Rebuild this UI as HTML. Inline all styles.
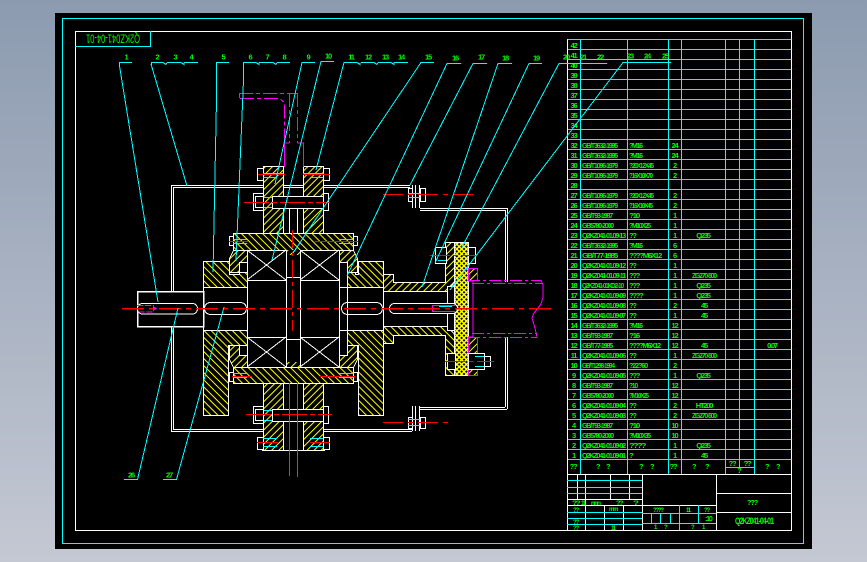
<!DOCTYPE html>
<html><head><meta charset="utf-8"><style>
html,body{margin:0;padding:0;width:867px;height:562px;overflow:hidden;background:linear-gradient(#8c9bb0,#c4c8d3)}
svg{display:block;position:absolute;left:0;top:0}
text{font-family:"Liberation Sans",sans-serif;fill:#0f0;font-size:7.5px;font-weight:bold;letter-spacing:-1.2px}
.m{text-anchor:middle}
</style></head><body>
<svg width="867" height="562" viewBox="0 0 867 562" shape-rendering="crispEdges">
<defs>
<pattern id="a" width="5" height="5" patternUnits="userSpaceOnUse" patternTransform="rotate(45)"><rect width="5" height="5" fill="#000"/><rect width="1.2" height="5" fill="#ff0"/></pattern>
<pattern id="b" width="5" height="5" patternUnits="userSpaceOnUse" patternTransform="rotate(-45)"><rect width="5" height="5" fill="#000"/><rect width="1.2" height="5" fill="#ff0"/></pattern>
<pattern id="c" width="3.400" height="3.400" patternUnits="userSpaceOnUse" patternTransform="rotate(45)"><rect width="3.400" height="3.400" fill="#ff0"/><rect width="1.800" height="1.800" fill="#000"/></pattern>
</defs>
<rect x="55" y="13" width="757" height="536" fill="#000"/>
<rect x="62.5" y="18.5" width="741" height="525" fill="none" stroke="#0ff"/>
<rect x="75.5" y="31.5" width="716" height="499" fill="none" stroke="#fff"/>
<path d="M75 46.5H150.5V31" fill="none" stroke="#0ff"/>
<text transform="rotate(180 113 39)" x="86" y="43.5" textLength="54" lengthAdjust="spacingAndGlyphs" style="font-size:12px;font-weight:normal;letter-spacing:0">Q2KZ041-04-01</text>

<!-- table -->
<path fill="none" stroke="#0ff" d="M567 39.5H791M567 49.5H791M567 59.5H791M567 69.5H791M567 79.5H791M567 89.5H791M567 99.5H791M567 109.5H791M567 119.5H791M567 129.5H791M567 139.5H791M567 149.5H791M567 159.5H791M567 169.5H791M567 179.5H791M567 189.5H791M567 199.5H791M567 209.5H791M567 219.5H791M567 229.5H791M567 239.5H791M567 249.5H791M567 259.5H791M567 269.5H791M567 279.5H791M567 289.5H791M567 299.5H791M567 309.5H791M567 319.5H791M567 329.5H791M567 339.5H791M567 349.5H791M567 359.5H791M567 369.5H791M567 379.5H791M567 389.5H791M567 399.5H791M567 409.5H791M567 419.5H791M567 429.5H791M567 439.5H791M567 449.5H791M567 459.5H791M580.5 39V474M627.5 39V474M668.5 39V474M681.5 39V474M725.5 39V474M739.5 39V467M754.5 39V474M725 467.5H754"/>
<path fill="none" stroke="#fff" d="M567.5 39V530M567 474.5H791"/>

<!-- table text -->
<g transform="translate(0,1)">
<text x="573.5" y="47" class="m">42</text><text x="573.5" y="57" class="m">41</text><text x="573.5" y="67" class="m">40</text><text x="573.5" y="77" class="m">39</text><text x="573.5" y="87" class="m">38</text><text x="573.5" y="97" class="m">37</text><text x="573.5" y="107" class="m">36</text><text x="573.5" y="117" class="m">35</text><text x="573.5" y="127" class="m">34</text><text x="573.5" y="137" class="m">33</text>
<text x="573.5" y="147" class="m">32</text><text x="582" y="147" textLength="35" lengthAdjust="spacingAndGlyphs">GB/T3632-1995</text><text x="629" y="147" textLength="13" lengthAdjust="spacingAndGlyphs">?M16</text><text x="674.5" y="147" class="m">24</text>
<text x="573.5" y="157" class="m">31</text><text x="582" y="157" textLength="35" lengthAdjust="spacingAndGlyphs">GB/T3632-1995</text><text x="629" y="157" textLength="13" lengthAdjust="spacingAndGlyphs">?M16</text><text x="674.5" y="157" class="m">24</text>
<text x="573.5" y="167" class="m">30</text><text x="582" y="167" textLength="35" lengthAdjust="spacingAndGlyphs">GB/T1096-1979</text><text x="629" y="167" textLength="24" lengthAdjust="spacingAndGlyphs">?20X12X45</text><text x="674.5" y="167" class="m">2</text>
<text x="573.5" y="177" class="m">29</text><text x="582" y="177" textLength="35" lengthAdjust="spacingAndGlyphs">GB/T1096-1979</text><text x="629" y="177" textLength="23" lengthAdjust="spacingAndGlyphs">?16X10X70</text><text x="674.5" y="177" class="m">2</text>
<text x="573.5" y="187" class="m">28</text>
<text x="573.5" y="197" class="m">27</text><text x="582" y="197" textLength="35" lengthAdjust="spacingAndGlyphs">GB/T1096-1979</text><text x="629" y="197" textLength="24" lengthAdjust="spacingAndGlyphs">?20X12X45</text><text x="674.5" y="197" class="m">2</text>
<text x="573.5" y="207" class="m">26</text><text x="582" y="207" textLength="35" lengthAdjust="spacingAndGlyphs">GB/T1096-1979</text><text x="629" y="207" textLength="23" lengthAdjust="spacingAndGlyphs">?16X10X45</text><text x="674.5" y="207" class="m">2</text>
<text x="573.5" y="217" class="m">25</text><text x="582" y="217" textLength="30" lengthAdjust="spacingAndGlyphs">GB/T93-1987</text><text x="629" y="217" textLength="10" lengthAdjust="spacingAndGlyphs">?10</text><text x="674.5" y="217" class="m">1</text>
<text x="573.5" y="227" class="m">24</text><text x="582" y="227" textLength="31" lengthAdjust="spacingAndGlyphs">GB5780-2000</text><text x="629" y="227" textLength="21" lengthAdjust="spacingAndGlyphs">?M10X25</text><text x="674.5" y="227" class="m">1</text>
<text x="573.5" y="237" class="m">23</text><text x="582" y="237" textLength="43" lengthAdjust="spacingAndGlyphs">Q2KZ041-01.09-13</text><text x="629" y="237">??</text><text x="674.5" y="237" class="m">1</text><text x="703" y="237" class="m">Q235</text>
<text x="573.5" y="247" class="m">22</text><text x="582" y="247" textLength="35" lengthAdjust="spacingAndGlyphs">GB/T3632-1995</text><text x="629" y="247" textLength="13" lengthAdjust="spacingAndGlyphs">?M16</text><text x="674.5" y="247" class="m">6</text>
<text x="573.5" y="257" class="m">21</text><text x="582" y="257" textLength="35" lengthAdjust="spacingAndGlyphs">GB/T77-1985</text><text x="629" y="257" textLength="32" lengthAdjust="spacingAndGlyphs">????M6X12</text><text x="674.5" y="257" class="m">6</text>
<text x="573.5" y="267" class="m">20</text><text x="582" y="267" textLength="43" lengthAdjust="spacingAndGlyphs">Q2KZ041-01.09-12</text><text x="629" y="267">??</text><text x="674.5" y="267" class="m">1</text>
<text x="573.5" y="277" class="m">19</text><text x="582" y="277" textLength="43" lengthAdjust="spacingAndGlyphs">Q2KZ041-01.09-11</text><text x="629" y="277">???</text><text x="674.5" y="277" class="m">1</text><text x="704" y="277" class="m" textLength="24" lengthAdjust="spacingAndGlyphs">ZG270-500</text>
<text x="573.5" y="287" class="m">18</text><text x="582" y="287" textLength="41" lengthAdjust="spacingAndGlyphs">Q2KZ041-01KD2-10</text><text x="629" y="287">???</text><text x="674.5" y="287" class="m">1</text><text x="703" y="287" class="m">Q235</text>
<text x="573.5" y="297" class="m">17</text><text x="582" y="297" textLength="43" lengthAdjust="spacingAndGlyphs">Q2KZ041-01.09-09</text><text x="629" y="297">????</text><text x="674.5" y="297" class="m">1</text><text x="703" y="297" class="m">Q235</text>
<text x="573.5" y="307" class="m">16</text><text x="582" y="307" textLength="43" lengthAdjust="spacingAndGlyphs">Q2KZ041-01.09-08</text><text x="629" y="307">??</text><text x="674.5" y="307" class="m">2</text><text x="704" y="307" class="m">45</text>
<text x="573.5" y="317" class="m">15</text><text x="582" y="317" textLength="43" lengthAdjust="spacingAndGlyphs">Q2KZ041-01.09-07</text><text x="629" y="317">??</text><text x="674.5" y="317" class="m">1</text><text x="704" y="317" class="m">45</text>
<text x="573.5" y="327" class="m">14</text><text x="582" y="327" textLength="35" lengthAdjust="spacingAndGlyphs">GB/T3632-1995</text><text x="629" y="327" textLength="13" lengthAdjust="spacingAndGlyphs">?M16</text><text x="674.5" y="327" class="m">12</text>
<text x="573.5" y="337" class="m">13</text><text x="582" y="337" textLength="30" lengthAdjust="spacingAndGlyphs">GB/T93-1987</text><text x="629" y="337" textLength="10" lengthAdjust="spacingAndGlyphs">?16</text><text x="674.5" y="337" class="m">12</text>
<text x="573.5" y="347" class="m">12</text><text x="582" y="347" textLength="30" lengthAdjust="spacingAndGlyphs">GB/T77-1985</text><text x="629" y="347" textLength="31" lengthAdjust="spacingAndGlyphs">????M6X12</text><text x="674.5" y="347" class="m">12</text><text x="704" y="347" class="m">45</text><text x="772" y="347" class="m">0.07</text>
<text x="573.5" y="357" class="m">11</text><text x="582" y="357" textLength="43" lengthAdjust="spacingAndGlyphs">Q2KZ041-01.09-06</text><text x="629" y="357">??</text><text x="674.5" y="357" class="m">1</text><text x="704" y="357" class="m" textLength="24" lengthAdjust="spacingAndGlyphs">ZG270-500</text>
<text x="573.5" y="367" class="m">10</text><text x="582" y="367" textLength="32" lengthAdjust="spacingAndGlyphs">GB/T1298-1994</text><text x="629" y="367" textLength="18" lengthAdjust="spacingAndGlyphs">?22?60</text><text x="674.5" y="367" class="m">2</text>
<text x="573.5" y="377" class="m">9</text><text x="582" y="377" textLength="43" lengthAdjust="spacingAndGlyphs">Q2KZ041-01.09-05</text><text x="629" y="377">???</text><text x="674.5" y="377" class="m">1</text><text x="703" y="377" class="m">Q235</text>
<text x="573.5" y="387" class="m">8</text><text x="582" y="387" textLength="30" lengthAdjust="spacingAndGlyphs">GB/T93-1987</text><text x="629" y="387" textLength="8" lengthAdjust="spacingAndGlyphs">?10</text><text x="674.5" y="387" class="m">12</text>
<text x="573.5" y="397" class="m">7</text><text x="582" y="397" textLength="31" lengthAdjust="spacingAndGlyphs">GB5780-2000</text><text x="629" y="397" textLength="19" lengthAdjust="spacingAndGlyphs">?M10X25</text><text x="674.5" y="397" class="m">12</text>
<text x="573.5" y="407" class="m">6</text><text x="582" y="407" textLength="43" lengthAdjust="spacingAndGlyphs">Q2KZ041-01.09-04</text><text x="629" y="407">??</text><text x="674.5" y="407" class="m">2</text><text x="704" y="407" class="m">HT200</text>
<text x="573.5" y="417" class="m">5</text><text x="582" y="417" textLength="43" lengthAdjust="spacingAndGlyphs">Q2KZ041-01.09-03</text><text x="629" y="417">??</text><text x="674.5" y="417" class="m">2</text><text x="704" y="417" class="m" textLength="24" lengthAdjust="spacingAndGlyphs">ZG270-500</text>
<text x="573.5" y="427" class="m">4</text><text x="582" y="427" textLength="30" lengthAdjust="spacingAndGlyphs">GB/T93-1987</text><text x="629" y="427" textLength="10" lengthAdjust="spacingAndGlyphs">?10</text><text x="674.5" y="427" class="m">10</text>
<text x="573.5" y="437" class="m">3</text><text x="582" y="437" textLength="31" lengthAdjust="spacingAndGlyphs">GB5780-2000</text><text x="629" y="437" textLength="21" lengthAdjust="spacingAndGlyphs">?M10X35</text><text x="674.5" y="437" class="m">10</text>
<text x="573.5" y="447" class="m">2</text><text x="582" y="447" textLength="43" lengthAdjust="spacingAndGlyphs">Q2KZ041-01.09-02</text><text x="629" y="447" textLength="16" lengthAdjust="spacingAndGlyphs">????</text><text x="674.5" y="447" class="m">1</text><text x="703" y="447" class="m">Q235</text>
<text x="573.5" y="457" class="m">1</text><text x="582" y="457" textLength="43" lengthAdjust="spacingAndGlyphs">Q2KZ041-01.09-01</text><text x="629" y="457">?</text><text x="674.5" y="457" class="m">1</text><text x="704" y="457" class="m">45</text>
<text x="573" y="468" class="m">??</text><text x="596" y="468">?</text><text x="606" y="468">?</text><text x="639" y="468">?</text><text x="650" y="468">?</text><text x="673" y="468" class="m">??</text><text x="692" y="468">?</text><text x="705" y="468">?</text><text x="732" y="465" class="m">??</text><text x="747" y="465" class="m">??</text><text x="739" y="472" class="m">?</text><text x="765" y="468">?</text><text x="776" y="468">?</text>
</g>

<!-- title block -->
<path fill="none" stroke="#fff" d="M577.5 474V499M585.5 474V530M610.5 474V499M629.5 474V499M642.5 474V530M716.5 474V530M567 499.5H642M567 505.5H716M604.5 505V530M623.5 505V530M716 493.5H791M716 512.5H791"/>
<path fill="none" stroke="#0ff" d="M567 480.5H642M567 487.5H642M567 493.5H642M567 512.5H642M567 518.5H642M567 524.5H642M642 513.5H716M642 523.5H716M679.5 505V530M698.5 505V523M651.5 513V523M660.5 513V523M670.5 513V523"/>
<text x="572" y="505" style="font-size:6px" textLength="7" lengthAdjust="spacingAndGlyphs">??</text><text x="581" y="505" style="font-size:6px" textLength="4" lengthAdjust="spacingAndGlyphs">11</text><text x="591" y="505" style="font-size:6px" textLength="9" lengthAdjust="spacingAndGlyphs">mmm</text><text x="616" y="505" style="font-size:6px" textLength="6" lengthAdjust="spacingAndGlyphs">??</text><text x="633" y="505" style="font-size:6px" textLength="4" lengthAdjust="spacingAndGlyphs">?</text>
<text x="573" y="512" style="font-size:6px">??</text><text x="573" y="524" style="font-size:6px">??</text><text x="573" y="530" style="font-size:6px">??</text><text x="609" y="511" style="font-size:6px">mm</text><text x="611" y="530" style="font-size:6px">11</text>
<text x="653" y="512" style="font-size:6px">????</text><text x="686" y="512" style="font-size:6px">11</text><text x="704" y="512" style="font-size:6px">??</text><text x="705" y="521" style="font-size:7px">:10</text><text x="654" y="529" style="font-size:6px">1</text><text x="664" y="529" style="font-size:6px">?</text><text x="691" y="529" style="font-size:6px">?</text><text x="702" y="529" style="font-size:6px">1</text>
<text x="752" y="505" class="m">???</text>
<text x="735" y="524" style="font-size:9px" textLength="38" lengthAdjust="spacingAndGlyphs">Q2KZ041-04-01</text>

<!-- housing box -->
<path fill="none" stroke="#fff" d="M263 185.5H171.5V291M263 187.5H173.5V291M171.5 326V431.5H263M173.5 326V429.5H263M323 429.5H412M323 431.5H412M264 185.5H410M264 187.5H410M412.5 185V208M415.5 185V208M419.5 185V208M420 208.5H507M420 210.5H505M505.5 210V282M507.5 208V282M505.5 337V407M507.5 337V409M420 407.5H505M420 409.5H507M412.5 406V431M415.5 406V431M419.5 406V431"/>

<!-- housing hatched parts -->
<g stroke="#fff" stroke-width="1">
<path fill="url(#a)" d="M263.500 166.500H283.500V233.500H263.500Z"/>
<path fill="url(#a)" d="M303.500 166.500H323.500V233.500H303.500Z"/>
<path fill="url(#a)" d="M263.500 383.500H283.500V450.500H263.500Z"/>
<path fill="url(#a)" d="M303.500 383.500H323.500V450.500H303.500Z"/>
<path fill="url(#b)" d="M233.500 233.500H353.500V250.500H233.500Z"/>
<path fill="url(#b)" d="M233.500 367.500H353.500V383.500H233.500Z"/>
<path fill="url(#b)" d="M203.500 261.500H229.500V274.500H239.500V272.500H247.500V287.500H203.500Z"/>
<path fill="url(#b)" d="M203.500 330.500H247.500V345.500H228.500V415.500H203.500Z"/>
<path fill="url(#a)" d="M233.500 250.500H247.500V262.500H239.500V272.500H229.500V258.500Z"/>
<path fill="url(#a)" d="M229.500 345.500H239.500V355.500H247.500V367.500H233.500L229.500 359.500Z"/>
<path fill="url(#b)" d="M347.500 272.500H355.500V274.500H358.500V261.500H383.500V287.500H347.500Z"/>
<path fill="url(#b)" d="M347.500 330.500H383.500V415.500H358.500V345.500H347.500Z"/>
<path fill="url(#a)" d="M339.500 250.500H353.500L357.500 258.500V272.500H347.500V262.500H339.500Z"/>
<path fill="url(#a)" d="M347.500 345.500H357.500V359.500L353.500 367.500H339.500V355.500H347.500Z"/>
<path fill="url(#a)" d="M383.500 274.500H393.500V282.500H445.500V242.500H455.500V280.500L447.500 291.500H383.500Z"/>
<path fill="url(#b)" d="M383.500 326.500H447.500L455.500 335.500V375.500H445.500V335.500H393.500V343.500H383.500Z"/>
<path fill="url(#c)" d="M454.500 242.500H468.500V375.500H454.500Z"/>
<path fill="url(#a)" stroke="#f0f" d="M468.500 268.500H477.500V280.500H468.500Z"/>
<path fill="url(#a)" stroke="#f0f" d="M468.500 337.500H477.500V375.500H468.500Z"/>
</g>

<!-- bore, bearings, shafts -->
<g fill="#000" stroke="#fff">
<rect x="247.500" y="250.500" width="39" height="30"/><rect x="300.500" y="250.500" width="39" height="30"/>
<rect x="247.500" y="337.500" width="39" height="30"/><rect x="300.500" y="337.500" width="39" height="30"/>
<rect x="247.500" y="280.500" width="92" height="57"/>
<rect x="286.500" y="250.500" width="14" height="117"/>
<rect x="203.500" y="287.500" width="44" height="43"/>
<rect x="339.500" y="287.500" width="44" height="43"/>
<rect x="383.500" y="291.500" width="64" height="35"/>
<rect x="447.500" y="286.500" width="7" height="44"/>
<rect x="137.500" y="291.500" width="66" height="35" stroke-width="1.500"/>
<rect x="137.500" y="303.500" width="60" height="10.500" rx="5"/>
<rect x="204.500" y="302.500" width="42" height="12" rx="6"/>
<rect x="341.500" y="302.500" width="41" height="12" rx="6"/>
<rect x="389.500" y="303.500" width="68" height="10" rx="5"/>
</g>
<rect x="287" y="250" width="13" height="5" fill="url(#a)"/><rect x="287" y="362" width="13" height="5" fill="url(#a)"/>
<path fill="none" stroke="#fff" d="M286 277.500H300M286 339.500H300M247 250L286 280M286 250L247 280M300 250L339 280M339 250L300 280M247 337L286 367M286 337L247 367M300 337L339 367M339 337L300 367M347.500 287V331M239.500 262V272"/>

<!-- channel lines in top/bottom boss -->
<path fill="none" stroke="#fff" d="M289.500 207V233M297.500 207V233M283.500 166V233M303.500 166V233M283.500 383V450M303.500 383V450M262 450.500H325"/>

<!-- bolts -->
<g fill="#000" stroke="#fff">
<rect x="253.500" y="193.500" width="10" height="17"/><rect x="255.500" y="196.500" width="8" height="11"/><rect x="272.500" y="196.500" width="51" height="12"/><rect x="323.500" y="193.500" width="5" height="17"/>
<rect x="253.500" y="406.500" width="10" height="17"/><rect x="255.500" y="409.500" width="8" height="11"/><rect x="272.500" y="409.500" width="51" height="12"/><rect x="323.500" y="406.500" width="5" height="17"/>
<rect x="257.500" y="168.500" width="6" height="12"/><rect x="323.500" y="168.500" width="6" height="12"/>
<rect x="257.500" y="437.500" width="6" height="12"/><rect x="323.500" y="437.500" width="6" height="12"/>
<rect x="229.500" y="236.500" width="4" height="9"/><rect x="353.500" y="236.500" width="4" height="9"/>
<rect x="229.500" y="372.500" width="4" height="9"/><rect x="353.500" y="372.500" width="4" height="9"/>
<rect x="408.500" y="188.500" width="4" height="13"/><rect x="420.500" y="188.500" width="5" height="13"/>
<rect x="408.500" y="417.500" width="4" height="11"/><rect x="420.500" y="417.500" width="5" height="11"/>
<rect x="435.500" y="247.500" width="11" height="16"/><rect x="468.500" y="247.500" width="7" height="16"/>
<rect x="447.500" y="353.500" width="8" height="16"/><rect x="468.500" y="353.500" width="16" height="16"/><rect x="484.500" y="356.500" width="6" height="10"/>
</g>
<path fill="none" stroke="#0ff" d="M263 173.500H283M303 173.500H323M263 177.500H277M310 177.500H323M233 239.500H247M339 239.500H353M233 243.500H247M339 243.500H353M233 373.500H247M339 373.500H353M233 377.500H247M339 377.500H353M263 438.500H277M310 438.500H323M263 446.500H277M310 446.500H323M264 197.500H272M264 207.500H272M264 410.500H272M264 420.500H272M408 193.500H420M408 197.500H420M408 419.500H420M408 425.500H420M438 255.500H446M438 260.500H446M475 356.500H484M475 366.500H484M439 306.500H452M439 311.500H452"/>

<!-- magenta -->
<path fill="none" stroke="#f0f" d="M284.500 143V167M284.500 143H289M297.500 143H303.500V167"/>
<path fill="none" stroke="#f0f" d="M239.500 93V98"/>
<path fill="none" stroke="#f0f" stroke-dasharray="14 3 4 3" d="M239 93.500H297M240 98.500H280L284.500 103V143M289.500 93V143M297.500 93V143"/>
<path fill="none" stroke="#f0f" d="M289.500 383V476M297.500 383V477M473 281V337M473 281H468M473 337H468"/>
<path fill="none" stroke="#f0f" stroke-dasharray="12 3 3 3" d="M468 280.500H541M472 283.500H543M468 337.500H537M472 333.500H537"/>
<path fill="none" stroke="#f0f" d="M541 280L543 285V297L541 304L534 313L532 318L535 328L537 337M432.500 306V312M432 305.500H455M432 311.500H455"/>
<path fill="none" stroke="#f0f" stroke-dasharray="6 2" d="M137 305.500H153.500V312H137"/>
<path fill="#f0f" d="M153 306L157 308.500L153 311Z"/>

<!-- red centre lines -->
<g fill="none" stroke="#f00" stroke-width="1">
<path stroke-width="1.500" stroke-dasharray="22 5 5 5" d="M122 308.500H555"/>
<path stroke-dasharray="18 4 4 4" d="M292.500 230V331"/>
<path stroke-dasharray="25 3 5 3" d="M244 202.500H330M246 414.500H332"/>
<path d="M258 174.500H285M303 174.500H330M257 442.500H278M310 442.500H330"/>
<path d="M229 241.500H248M315 241.500H358M232 376.500H252M320 376.500H355"/>
<path stroke-dasharray="20 5 5 5" d="M383 194.500H477M383 422.500H450"/>
<path stroke-dasharray="20 4 4 4" d="M430 255.500H476M445 361.500H494"/>
</g>

<!-- leaders -->
<g fill="none" stroke="#0ff">
<path d="M132 62.500H119.500V66L158 302"/>
<path d="M151.500 66V62.500H163M167 62.500H181M184 62.500H198M163 62.500L166 64.500L167 62.500M181 62.500L184 64.500V62.500M151 64L187 186"/>
<path d="M229 62.500H216.500V100L213 272"/>
<path d="M256 62.500H243.500V80L236 261"/>
<path d="M259 62.500H273M277 62.500H290M256 62.500L259 64.500V62.500M273 62.500L276 64.500L277 62.500"/>
<path d="M315 62.500H302L275 184"/>
<path d="M334 61.500H321L272 260"/>
<path d="M357 62.500H344L316 170"/>
<path d="M361 62.500H374M378 62.500H391M394 62.500H408M357 62.500L360 64.500V62.500M374 62.500L377 64.500L378 62.500M391 62.500L394 64.500V62.500"/>
<path d="M434 62.500H421L293 253"/>
<path d="M461 63.500H447L347 276"/>
<path d="M487 63.500H473L410 185"/>
<path d="M512 63.500H498L422 287"/>
<path d="M542 63.500H529L435 263"/>
<path d="M607 63.500H559L462 247"/>
<path d="M671 62.500H623L450 290"/>
<path d="M124 479.500H137.500L178 308"/>
<path d="M163 479.500H176.500L224 307"/>
</g>

<!-- balloons -->
<g>
<text x="126" y="59.500" class="m">1</text><text x="157" y="59.500" class="m">2</text><text x="175" y="59.500" class="m">3</text><text x="191" y="59.500" class="m">4</text><text x="223" y="59.500" class="m">5</text><text x="250" y="59.500" class="m">6</text><text x="267" y="59.500" class="m">7</text><text x="284" y="59.500" class="m">8</text><text x="308" y="59.500" class="m">9</text><text x="328" y="58.500" class="m">10</text><text x="351" y="59.500" class="m">11</text><text x="368" y="59.500" class="m">12</text><text x="385" y="59.500" class="m">13</text><text x="401" y="59.500" class="m">14</text><text x="428" y="59.500" class="m">15</text><text x="455" y="60.500" class="m">16</text><text x="481" y="59.500" class="m">17</text><text x="505" y="60.500" class="m">18</text><text x="536" y="60.500" class="m">19</text><text x="566" y="59.500" class="m">20</text><text x="583" y="59.500" class="m">21</text><text x="600" y="59.500" class="m">22</text><text x="630" y="58.500" class="m">23</text><text x="647" y="58.500" class="m">24</text><text x="665" y="58.500" class="m">25</text><text x="131" y="477.500" class="m">26</text><text x="169" y="477.500" class="m">27</text>
</g>
</svg>
</body></html>
